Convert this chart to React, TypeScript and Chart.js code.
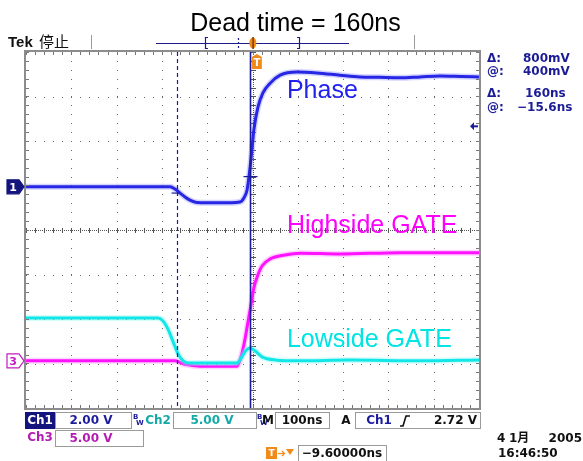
import React, { useEffect, useRef } from "react";
import { Chart, registerables } from "chart.js";
Chart.register(...registerables);

const W = 583;
const H = 461;

// Horizontal axis: time in ns (100 ns/div, 10 div). Vertical axis: screen divisions (8 div).
const xTicks = [-500, -400, -300, -200, -100, 0, 100, 200, 300, 400, 500];
const yTicks = [-4, -3, -2, -1, 0, 1, 2, 3, 4];

// Ch1 - Phase (blue)
const phaseTime = [-500, -182, -171, -160, -149, -138, -123, -72, -28, -19, -12, -6, -1, 3, 12, 23, 39, 61, 98, 142, 193, 237, 280, 326, 370, 414, 460, 500];
const phaseDiv = [0.97, 0.97, 0.92, 0.83, 0.74, 0.67, 0.62, 0.61, 0.63, 0.72, 0.9, 1.35, 1.84, 2.25, 2.76, 3.08, 3.3, 3.48, 3.55, 3.53, 3.48, 3.44, 3.43, 3.42, 3.44, 3.46, 3.45, 3.44];

// Ch3 - Highside GATE (magenta)
const highTime = [-500, -171, -149, -116, -34, -28, -19, -10, -3, 3, 10, 21, 39, 72, 105, 193, 326, 500];
const highDiv = [-2.94, -2.94, -3.02, -3.06, -3.06, -2.94, -2.58, -2.07, -1.66, -1.3, -1.06, -0.81, -0.65, -0.56, -0.52, -0.54, -0.51, -0.51];

// Ch2 - Lowside GATE (cyan)
const lowTime = [-500, -209, -198, -187, -176, -164, -153, -138, -34, -25, -14, -6, 6, 21, 50, 105, 215, 370, 500];
const lowDiv = [-1.98, -1.98, -2.04, -2.22, -2.49, -2.79, -2.94, -2.99, -2.99, -2.88, -2.7, -2.65, -2.72, -2.85, -2.92, -2.94, -2.92, -2.94, -2.92];

// Cursors (ns) and trigger
const cursorDashed = -166;
const cursorSolid = -6;
const cursorDashedMark = 0.83;
const cursorSolidMark = 1.2;
const triggerTime = 9.6;
const ch1Ground = 0.97;
const ch3Ground = -2.94;
const ch1TrigLevel = 2.33;

const traceLabels = [
  { text: "Phase", t: 76, v: 2.96, color: "#2222f0" },
  { text: "Highside GATE", t: 76, v: -0.07, color: "#ff00ff" },
  { text: "Lowside GATE", t: 76, v: -2.63, color: "#00e4e4" },
];

const readoutSymbols = ["Δ:", "@:", "Δ:", "@:"];
const readoutValues = ["800mV", "400mV", "160ns", "\u221215.6ns"];

const mk = (ts: number[], vs: number[]) => ts.map((t, i) => ({ x: t, y: vs[i] }));

const UI = '"DejaVu Sans", "Noto Sans CJK SC", sans-serif';

function txt(ctx: CanvasRenderingContext2D, s: string, x: number, y: number, font: string, color: string, align: CanvasTextAlign = "left") {
  ctx.font = font;
  ctx.fillStyle = color;
  ctx.textAlign = align;
  ctx.textBaseline = "middle";
  ctx.fillText(s, x, y);
}

function box(ctx: CanvasRenderingContext2D, x: number, y: number, w: number, h: number) {
  ctx.strokeStyle = "#9a9a9a";
  ctx.lineWidth = 1;
  ctx.strokeRect(x + 0.5, y + 0.5, w, h);
}

const scopePlugin = {
  id: "scope",
  beforeDatasetsDraw(chart: any) {
    const { ctx, chartArea: a, scales } = chart;
    const xs = scales.x, ys = scales.y;
    ctx.save();
    ctx.fillStyle = "#fff";
    ctx.fillRect(a.left, a.top, a.right - a.left, a.bottom - a.top);
    ctx.fillStyle = "#6a6a6a";
    xTicks.forEach((t, i) => {
      if (i === 0 || i === xTicks.length - 1 || t === 0) return;
      const x = Math.round(xs.getPixelForValue(t));
      for (let v = -4; v <= 4.001; v += 0.2) {
        const y = Math.round(ys.getPixelForValue(v));
        ctx.fillRect(x, y, 1, 1);
      }
    });
    yTicks.forEach((v, i) => {
      if (i === 0 || i === yTicks.length - 1 || v === 0) return;
      const y = Math.round(ys.getPixelForValue(v));
      for (let t = -500; t <= 500.01; t += 20) {
        const x = Math.round(xs.getPixelForValue(t));
        ctx.fillRect(x, y, 1, 1);
      }
    });
    const cx = Math.round(xs.getPixelForValue(0));
    const cy = Math.round(ys.getPixelForValue(0));
    ctx.fillStyle = "#555";
    for (let y = a.top; y < a.bottom; y += 2) ctx.fillRect(cx, y, 1, 1);
    for (let x = a.left; x < a.right; x += 2) ctx.fillRect(x, cy, 1, 1);
    for (let v = -4; v <= 4.001; v += 0.2) {
      const y = Math.round(ys.getPixelForValue(v));
      ctx.fillRect(cx - 2, y, 5, 1);
    }
    for (let t = -500; t <= 500.01; t += 20) {
      const x = Math.round(xs.getPixelForValue(t));
      ctx.fillRect(x, cy - 2, 1, 5);
    }
    ctx.restore();
  },
  afterDatasetsDraw(chart: any) {
    const { ctx, chartArea: a, scales } = chart;
    const xs = scales.x, ys = scales.y;
    ctx.save();
    const xd = Math.round(xs.getPixelForValue(cursorDashed)) + 0.5;
    const xsd = Math.round(xs.getPixelForValue(cursorSolid)) + 0.5;
    ctx.strokeStyle = "#1c1c9a";
    ctx.lineWidth = 1.2;
    ctx.setLineDash([4, 3]);
    ctx.beginPath(); ctx.moveTo(xd, a.top); ctx.lineTo(xd, a.bottom); ctx.stroke();
    ctx.setLineDash([]);
    ctx.lineWidth = 1.6;
    ctx.beginPath(); ctx.moveTo(xsd, a.top); ctx.lineTo(xsd, a.bottom); ctx.stroke();
    ctx.lineWidth = 1.2;
    const ym1 = ys.getPixelForValue(cursorDashedMark);
    const ym2 = ys.getPixelForValue(cursorSolidMark);
    ctx.beginPath(); ctx.moveTo(xd - 6, ym1); ctx.lineTo(xd + 2, ym1); ctx.stroke();
    ctx.beginPath(); ctx.moveTo(xsd - 7, ym2); ctx.lineTo(xsd + 7, ym2); ctx.stroke();

    traceLabels.forEach((l) => {
      ctx.font = '25px "Liberation Sans", Arial, sans-serif';
      ctx.fillStyle = l.color;
      ctx.textAlign = "left";
      ctx.textBaseline = "alphabetic";
      ctx.fillText(l.text, xs.getPixelForValue(l.t), ys.getPixelForValue(l.v));
    });

    ctx.fillStyle = "#777";
    for (let t = -500; t <= 500.01; t += 20) {
      const x = Math.round(xs.getPixelForValue(t));
      ctx.fillRect(x, a.top, 1, 3);
      ctx.fillRect(x, a.bottom - 3, 1, 3);
    }
    for (let v = -4; v <= 4.001; v += 0.2) {
      const y = Math.round(ys.getPixelForValue(v));
      ctx.fillRect(a.left, y, 3, 1);
      ctx.fillRect(a.right - 3, y, 3, 1);
    }
    ctx.strokeStyle = "#8c8c8c";
    ctx.lineWidth = 2;
    ctx.strokeRect(a.left - 1, a.top - 1, a.right - a.left + 2, a.bottom - a.top + 2);

    const xt = xs.getPixelForValue(triggerTime);
    ctx.fillStyle = "#f28a1a";
    ctx.beginPath();
    ctx.moveTo(xt - 5, a.top + 5); ctx.lineTo(xt, a.top + 2); ctx.lineTo(xt + 5, a.top + 5);
    ctx.lineTo(xt + 5, a.top + 17); ctx.lineTo(xt - 5, a.top + 17); ctx.closePath(); ctx.fill();
    txt(ctx, "T", xt, a.top + 11, `bold 10px ${UI}`, "#fff", "center");

    const yl = ys.getPixelForValue(ch1TrigLevel);
    ctx.fillStyle = "#1c1c9a";
    ctx.beginPath(); ctx.moveTo(a.right - 9, yl); ctx.lineTo(a.right - 5, yl - 4); ctx.lineTo(a.right - 5, yl + 4); ctx.closePath(); ctx.fill();
    ctx.fillRect(a.right - 5, yl - 1, 4, 2);

    const marker = (v: number, label: string, fill: string, stroke: string, tc: string) => {
      const y = ys.getPixelForValue(v);
      const x0 = 7, x1 = 19, tip = 24;
      ctx.beginPath();
      ctx.moveTo(x0, y - 7); ctx.lineTo(x1, y - 7); ctx.lineTo(tip, y); ctx.lineTo(x1, y + 7); ctx.lineTo(x0, y + 7); ctx.closePath();
      ctx.fillStyle = fill; ctx.fill();
      ctx.strokeStyle = stroke; ctx.lineWidth = 1.2; ctx.stroke();
      txt(ctx, label, 13, y + 1, `bold 11px ${UI}`, tc, "center");
    };
    marker(ch1Ground, "1", "#14147e", "#14147e", "#fff");
    marker(ch3Ground, "3", "#fff", "#c21cc2", "#c21cc2");
    ctx.restore();
  },
  afterDraw(chart: any) {
    const { ctx, scales } = chart;
    const xs = scales.x;
    ctx.save();
    ctx.font = '25px "Liberation Sans", Arial, sans-serif';
    ctx.fillStyle = "#000";
    ctx.textAlign = "center";
    ctx.textBaseline = "alphabetic";
    ctx.fillText("Dead time = 160ns", 295.5, 31);

    ctx.textAlign = "left";
    ctx.font = 'bold 15px "Liberation Sans", Arial, sans-serif';
    ctx.fillStyle = "#111";
    ctx.fillText("Tek", 8, 47);
    ctx.font = '15px "Noto Sans CJK SC", sans-serif';
    ctx.fillText("停止", 39, 47);

    ctx.fillStyle = "#9a9a9a";
    ctx.fillRect(91, 35, 1, 14);
    ctx.fillRect(414, 35, 1, 14);
    ctx.strokeStyle = "#1c1c8c";
    ctx.lineWidth = 1.2;
    ctx.beginPath(); ctx.moveTo(156, 43.5); ctx.lineTo(349, 43.5); ctx.stroke();
    ctx.beginPath();
    ctx.moveTo(208, 37.5); ctx.lineTo(205.5, 37.5); ctx.lineTo(205.5, 48.5); ctx.lineTo(208, 48.5);
    ctx.moveTo(297, 37.5); ctx.lineTo(299.5, 37.5); ctx.lineTo(299.5, 48.5); ctx.lineTo(297, 48.5);
    ctx.stroke();
    ctx.setLineDash([2, 2]);
    ctx.beginPath(); ctx.moveTo(238.5, 38); ctx.lineTo(238.5, 49); ctx.stroke();
    ctx.setLineDash([]);
    const xt = xs.getPixelForValue(triggerTime) - 4;
    ctx.fillStyle = "#f28a1a";
    ctx.beginPath(); ctx.ellipse(xt, 43, 3.5, 5.5, 0, 0, Math.PI * 2); ctx.fill();
    ctx.fillStyle = "#7a3a00";
    ctx.fillRect(xt - 0.5, 37, 1.5, 12);

    const rf = `bold 12px ${UI}`;
    const rc = "#1c1c96";
    const rows = [59, 72, 94, 108];
    const valueX = [523, 523, 525, 517];
    rows.forEach((y, i) => {
      txt(ctx, readoutSymbols[i], 487, y, rf, rc, "left");
      txt(ctx, readoutValues[i], valueX[i], y, rf, rc, "left");
    });

    const bf = `bold 12px ${UI}`;
    ctx.fillStyle = "#14147e";
    ctx.fillRect(25, 412, 30, 17);
    txt(ctx, "Ch1", 40, 421, bf, "#fff", "center");
    box(ctx, 55, 412, 76, 16);
    txt(ctx, "2.00 V", 91, 421, bf, "#1c1ca0", "center");
    txt(ctx, "B", 133, 417, `bold 7px ${UI}`, "#1c1ca0", "left");
    txt(ctx, "W", 136, 423, `bold 7px ${UI}`, "#1c1ca0", "left");
    txt(ctx, "Ch2", 158, 421, bf, "#13a9a9", "center");
    box(ctx, 173, 412, 83, 16);
    txt(ctx, "5.00 V", 212, 421, bf, "#13a9a9", "center");
    txt(ctx, "B", 257, 417, `bold 7px ${UI}`, "#1c1ca0", "left");
    txt(ctx, "W", 260, 423, `bold 7px ${UI}`, "#1c1ca0", "left");
    txt(ctx, "M", 268, 421, bf, "#111", "center");
    box(ctx, 275, 412, 54, 16);
    txt(ctx, "100ns", 302, 421, bf, "#111", "center");
    txt(ctx, "A", 346, 421, bf, "#111", "center");
    box(ctx, 355, 412, 125, 16);
    txt(ctx, "Ch1", 379, 421, bf, "#1c1ca0", "center");
    ctx.strokeStyle = "#111";
    ctx.lineWidth = 1.6;
    ctx.beginPath(); ctx.moveTo(400, 426); ctx.lineTo(403, 426); ctx.lineTo(406, 416); ctx.lineTo(410, 416); ctx.stroke();
    txt(ctx, "2.72 V", 477, 421, bf, "#111", "right");

    txt(ctx, "Ch3", 40, 438, bf, "#b41cb4", "center");
    box(ctx, 55, 430, 88, 16);
    txt(ctx, "5.00 V", 91, 439, bf, "#b41cb4", "center");

    txt(ctx, "4", 497, 439, bf, "#111", "left");
    txt(ctx, "1月", 509, 439, bf, "#111", "left");
    txt(ctx, "2005", 582, 439, bf, "#111", "right");
    txt(ctx, "16:46:50", 498, 454, bf, "#111", "left");

    ctx.fillStyle = "#f28a1a";
    ctx.fillRect(266, 447, 11, 12);
    txt(ctx, "T", 271.5, 453.5, `bold 9px ${UI}`, "#fff", "center");
    ctx.strokeStyle = "#f28a1a";
    ctx.lineWidth = 1.2;
    ctx.beginPath(); ctx.moveTo(278, 453.5); ctx.lineTo(284, 453.5); ctx.stroke();
    ctx.beginPath(); ctx.moveTo(282, 451); ctx.lineTo(284.5, 453.5); ctx.lineTo(282, 456); ctx.stroke();
    ctx.fillStyle = "#f28a1a";
    ctx.beginPath(); ctx.moveTo(286, 449); ctx.lineTo(294, 449); ctx.lineTo(290, 455); ctx.closePath(); ctx.fill();
    box(ctx, 298, 445, 88, 17);
    txt(ctx, "\u22129.60000ns", 342, 454, bf, "#111", "center");
    ctx.restore();
  },
};

export default function App() {
  const ref = useRef<HTMLCanvasElement>(null);
  useEffect(() => {
    const canvas = ref.current;
    if (!canvas) return;
    const chart = new Chart(canvas, {
      type: "line",
      data: {
        datasets: [
          { label: "Phase", data: mk(phaseTime, phaseDiv), borderColor: "#2626e4", borderWidth: 3, order: 1 },
          { label: "Phase halo", data: mk(phaseTime, phaseDiv), borderColor: "rgba(110,110,255,0.3)", borderWidth: 6, order: 2 },
          { label: "Lowside GATE", data: mk(lowTime, lowDiv), borderColor: "#12e6e6", borderWidth: 3, order: 3 },
          { label: "Lowside halo", data: mk(lowTime, lowDiv), borderColor: "rgba(130,245,245,0.35)", borderWidth: 6, order: 4 },
          { label: "Highside GATE", data: mk(highTime, highDiv), borderColor: "#ff12ff", borderWidth: 3, order: 5 },
          { label: "Highside halo", data: mk(highTime, highDiv), borderColor: "rgba(255,130,255,0.35)", borderWidth: 6, order: 6 },
        ],
      },
      options: {
        animation: false,
        responsive: false,
        devicePixelRatio: 1,
        layout: { padding: { left: 26, top: 52, right: 104, bottom: 53 } },
        plugins: { legend: { display: false }, tooltip: { enabled: false }, title: { display: false } },
        elements: { point: { radius: 0 }, line: { cubicInterpolationMode: "monotone", fill: false } },
        scales: {
          x: { type: "linear", min: xTicks[0], max: xTicks[xTicks.length - 1], display: false },
          y: { type: "linear", min: yTicks[0], max: yTicks[yTicks.length - 1], display: false },
        },
      },
      plugins: [scopePlugin],
    } as any);
    return () => chart.destroy();
  }, []);
  return (
    <div style={{ position: "fixed", left: 0, top: 0, width: W, height: H, background: "#fff" }}>
      <canvas ref={ref} width={W} height={H} style={{ width: W, height: H, display: "block" }} />
    </div>
  );
}
